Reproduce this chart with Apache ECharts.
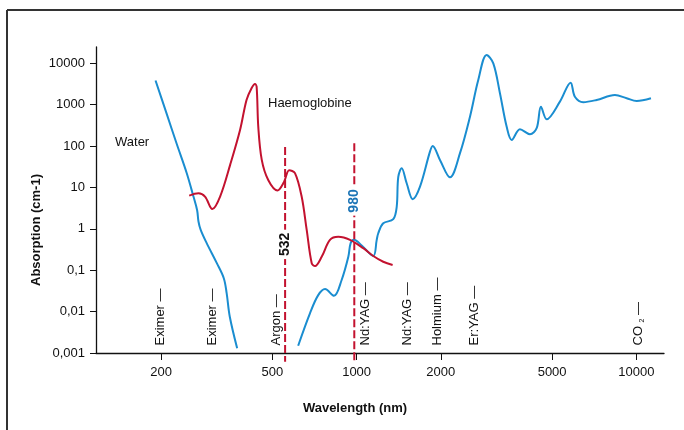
<!DOCTYPE html>
<html>
<head>
<meta charset="utf-8">
<script src="https://cdn.jsdelivr.net/npm/echarts@6/dist/echarts.min.js"></script>
<style>
html,body{margin:0;padding:0;background:#fff}
#main{width:684px;height:430px}
</style>
</head>
<body>
<div id="main"></div>
<script>
var xTicks=[200,500,1000,2000,5000,10000]
var yTicks=[0.001,0.01,0.1,1,10,100,1000,10000]
var yTickLabels=['0,001','0,01','0,1','1','10','100','1000','10000']

//water, UV part
var waterUvNm=[191,209,227,247,261,269,272,277,291,316,335,343,352,374]
var waterUvAbs=[3800,620,116,22,6,2.8,1.5,0.94,0.45,0.15,0.064,0.028,0.0075,0.0013]
//water, visible + IR part
var waterIrNm=[618,681,729,771,830,884,934,952,978,1045,1147,1180,1195,1245,1352,1391,1409,1449,1510,1587,1685,1829,1870,1986,2157,2342,2543,2722,2917,3081,3254,3440,3584,3837,4166,4402,4561,4780,5331,5821,6031,6462,7215,8385,9235,10030,11280]
var waterIrAbs=[0.0015,0.0091,0.025,0.035,0.024,0.058,0.21,0.45,0.54,0.39,0.22,0.54,0.78,1.36,1.7,3.4,18,29,12.6,5.2,10.4,73,100,46,17.5,67,510,3900,15800,9900,1880,290,140,253,192,268,890,442,1175,3380,1550,1140,1290,1700,1420,1220,1420]
//haemoglobine
var hbNm=[252,272,287,305,325,353,383,404,421,433,439,445,458,483,521,550,574,602,636,663,691,710,750,803,860,947,1056,1147,1245,1345]
var hbAbs=[6.3,7.2,6,3,6,35,243,1290,2480,3150,2700,292,46,15,8.4,13.5,26,22,6,0.94,0.147,0.126,0.21,0.54,0.64,0.54,0.34,0.22,0.16,0.134]

//lasers
var laserNames=['Eximer','Eximer','Argon','Nd:YAG','Nd:YAG','Holmium','Er:YAG','CO2']
var laserNm=[200,306,520,1080,1530,1950,2650,10250]

//dashed lines
var cutNm=[555,981]
var cutTop=[95,116]
var cutLabels=['532','980']
var cutLabelAbs=[0.42,4.7]

var BLUE='#1a8dd0',RED='#c3122f',FONT='Liberation Sans, Arial, sans-serif'

function lg(v){return Math.log(v)/Math.LN10}
function pairs(xs,ys){
    var out=[]
    for(var i=0;i<xs.length;i++) out.push([lg(xs[i]),lg(ys[i])])
    return out
}
function $each(arr,fn){for(var i=0;i<arr.length;i++) fn(i,arr[i])}

function drawChar(){
    var myChart=echarts.init(document.getElementById('main'))
    var series=[]
    var hidden={color:'rgba(0,0,0,0)',opacity:1}
    series.push({type:'line',data:pairs(waterUvNm,waterUvAbs),smooth:0.35,showSymbol:false,lineStyle:{color:BLUE,width:2},z:3})
    series.push({type:'line',data:pairs(waterIrNm,waterIrAbs),smooth:0.35,showSymbol:false,lineStyle:{color:BLUE,width:2},z:3})
    series.push({type:'line',data:pairs(hbNm,hbAbs),smooth:0.35,showSymbol:false,lineStyle:{color:RED,width:2},z:4})

    $each(cutNm,function(i,nm){
        series.push({type:'line',clip:false,showSymbol:false,z:5,
            data:[[lg(nm),lg(cutTop[i])],[lg(nm),-3.21]],
            lineStyle:{color:RED,width:2,type:[8,3]}})
        series.push({type:'scatter',symbolSize:1,itemStyle:hidden,z:6,
            data:[[lg(nm),lg(cutLabelAbs[i])]],
            label:{show:true,position:'inside',rotate:90,formatter:cutLabels[i],
                fontFamily:FONT,fontWeight:'bold',fontSize:14,
                color:i==0?'#111':'#1b74b6',backgroundColor:'#fff',padding:[0,3]}})
    })

    var laserData=[]
    $each(laserNm,function(i,nm){
        laserData.push({value:[lg(nm),-3],name:laserNames[i]})
    })
    series.push({type:'scatter',symbolSize:1,itemStyle:hidden,z:6,data:laserData,
        label:{show:true,position:[0,-7],rotate:90,align:'left',verticalAlign:'middle',
            fontFamily:FONT,fontSize:13,color:'#111',
            formatter:function(p){
                if(p.name=='CO2') return 'CO {s|2} \u2014'
                return p.name+' \u2014'
            },
            rich:{s:{fontSize:7,fontFamily:FONT,color:'#111',verticalAlign:'bottom'}}}})

    var option={
        animation:false,
        grid:{left:96,right:20,top:47,bottom:77},
        xAxis:{type:'value',min:lg(117),max:lg(12560),
            axisLine:{onZero:false,lineStyle:{color:'#111',width:1.3}},
            axisTick:{show:true,length:7,customValues:xTicks.map(lg),lineStyle:{color:'#111'}},
            axisLabel:{customValues:xTicks.map(lg),margin:13,fontFamily:FONT,fontSize:13,color:'#111',
                formatter:function(v){return String(Math.round(Math.pow(10,v)))}},
            splitLine:{show:false}},
        yAxis:{type:'value',min:-3,max:4.39,
            axisLine:{show:true,onZero:false,lineStyle:{color:'#111',width:1.3}},
            axisTick:{show:true,length:6,customValues:yTicks.map(lg),lineStyle:{color:'#111'}},
            axisLabel:{customValues:yTicks.map(lg),margin:11,fontFamily:FONT,fontSize:13,color:'#111',
                formatter:function(v){return yTickLabels[Math.round(v)+3]}},
            splitLine:{show:false}},
        graphic:[
            {type:'line',shape:{x1:7,y1:10,x2:684,y2:10},style:{stroke:'#333',lineWidth:2}},
            {type:'line',shape:{x1:7,y1:10,x2:7,y2:430},style:{stroke:'#333',lineWidth:2}},
            {type:'text',x:115,y:142,style:{text:'Water',fontFamily:FONT,fontSize:13,fill:'#111',verticalAlign:'middle'}},
            {type:'text',x:268,y:103,style:{text:'Haemoglobine',fontFamily:FONT,fontSize:13,fill:'#111',verticalAlign:'middle'}},
            {type:'text',x:36,y:230,rotation:Math.PI/2,style:{text:'Absorption (cm-1)',fontFamily:FONT,fontSize:13,fontWeight:'bold',fill:'#111',align:'center',verticalAlign:'middle'}},
            {type:'text',x:355,y:408,style:{text:'Wavelength (nm)',fontFamily:FONT,fontSize:13,fontWeight:'bold',fill:'#111',align:'center',verticalAlign:'middle'}}
        ],
        series:series
    }
    myChart.setOption(option)
}

drawChar()
</script>
</body>
</html>
